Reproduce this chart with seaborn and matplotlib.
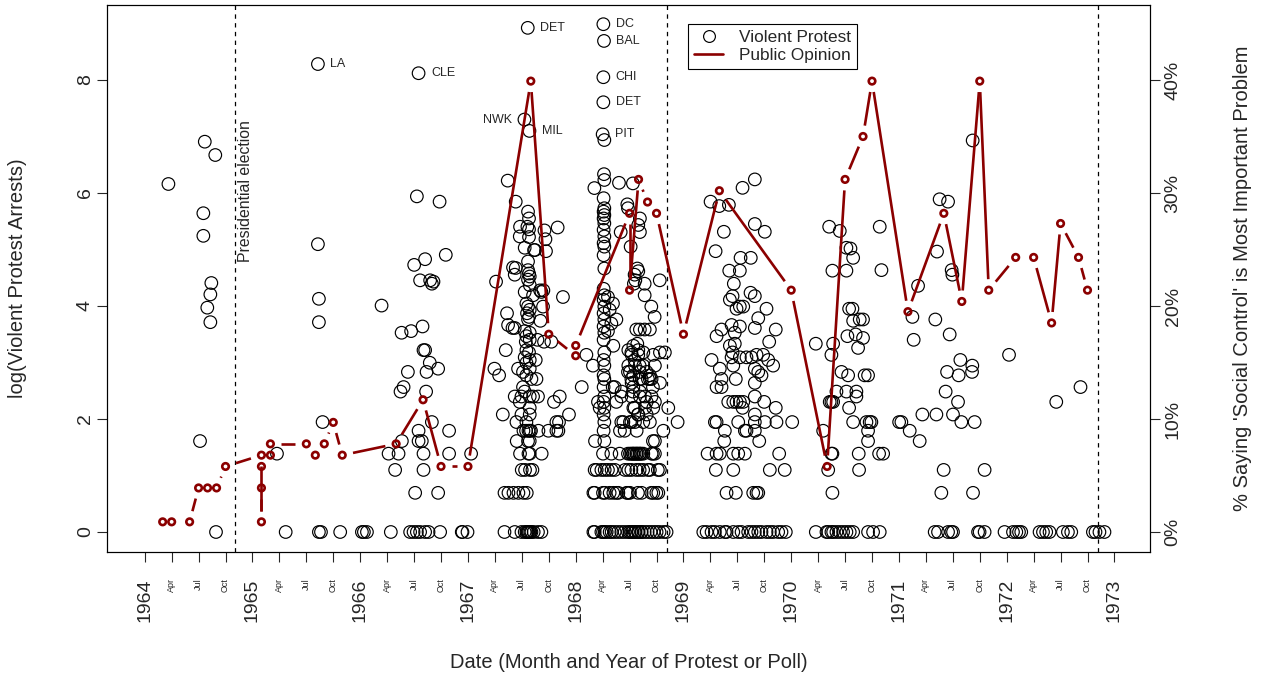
import numpy as np
import pandas as pd
import seaborn as sns
import matplotlib.pyplot as plt
from matplotlib.lines import Line2D
from matplotlib.collections import LineCollection

# violent protests: (month into the year, number of arrests); events with a single arrest listed apart
protests_1964 = [(2.64, 473), (6.16, 5), (6.53, 282), (6.53, 189), (6.69, 1000), (6.97, 53), (7.31, 67),
                 (7.31, 41), (7.42, 82), (7.86, 790)]
ones_1964 = [7.94]

protests_1965 = [(2.73, 4), (7.29, 3952), (7.29, 163), (7.40, 62), (7.40, 41), (7.81, 7)]
ones_1965 = [3.70, 7.40, 7.63, 9.77]

protests_1966 = [(2.38, 55), (3.16, 4), (4.27, 4), (3.89, 3), (4.61, 34), (4.49, 12), (4.83, 13), (4.64, 5),
                 (5.31, 17), (5.67, 35), (6.01, 113), (6.12, 2), (6.31, 380), (6.50, 3360), (6.50, 6), (6.50, 5),
                 (6.67, 86), (6.86, 5), (6.94, 38), (7.05, 25), (7.05, 4), (7.05, 3), (7.23, 25), (7.23, 125),
                 (7.34, 12), (7.39, 17), (7.75, 20), (7.79, 86), (7.98, 7), (7.98, 81), (8.16, 84), (8.68, 18),
                 (8.68, 2), (8.84, 346), (9.53, 135), (9.90, 6), (9.90, 4)]
ones_1966 = [0.19, 0.41, 0.75, 3.41, 5.56, 5.94, 6.31, 6.67, 7.23, 7.61, 8.90, 11.31, 11.39]

protests_1967 = [(0.35, 4), (2.95, 18), (3.13, 84), (3.47, 16), (3.88, 8), (4.07, 2), (4.21, 25), (4.35, 48),
                 (4.43, 502), (4.47, 39), (4.51, 2), (4.96, 37), (5.02, 108), (5.07, 2), (5.21, 95), (5.21, 37),
                 (5.21, 11), (5.32, 107), (5.32, 346), (5.40, 7), (5.43, 5), (5.58, 18), (5.62, 2), (5.77, 10),
                 (5.77, 187), (5.80, 222), (5.80, 4), (5.96, 8), (5.96, 11), (5.99, 3), (6.13, 13), (6.13, 17),
                 (6.18, 6), (6.18, 2), (6.29, 1480), (6.32, 153), (6.32, 70), (6.32, 35), (6.32, 22), (6.32, 12),
                 (6.36, 3), (6.44, 29), (6.47, 6), (6.51, 57), (6.51, 32), (6.51, 25), (6.51, 20), (6.51, 16),
                 (6.51, 7), (6.55, 2), (6.58, 48), (6.62, 222), (6.66, 7500), (6.69, 290), (6.69, 120),
                 (6.69, 103), (6.69, 87), (6.69, 54), (6.69, 43), (6.69, 5), (6.74, 6), (6.74, 4), (6.80, 257),
                 (6.80, 212), (6.80, 185), (6.80, 97), (6.80, 45), (6.80, 24), (6.85, 1210), (6.88, 92),
                 (6.88, 79), (6.88, 51), (6.88, 34), (6.88, 30), (6.88, 21), (6.88, 18), (6.88, 11), (6.88, 9),
                 (6.88, 8), (6.88, 6), (6.88, 5), (6.88, 4), (6.91, 3), (7.02, 6), (7.07, 15), (7.18, 3),
                 (7.25, 66), (7.25, 11), (7.36, 147), (7.47, 147), (7.55, 21), (7.63, 15), (7.74, 30), (7.80, 11),
                 (7.85, 6), (8.03, 72), (8.07, 42), (8.18, 70), (8.21, 4), (8.36, 54), (8.40, 72), (8.47, 29),
                 (8.52, 208), (8.63, 178), (8.69, 144), (8.96, 6), (9.29, 29), (9.58, 10), (9.85, 7), (9.85, 6),
                 (9.99, 219), (10.07, 6), (10.14, 7), (10.22, 11), (10.58, 64), (11.25, 8)]
ones_1967 = [-0.05, 4.07, 5.21, 5.96, 6.32, 6.51, 6.62, 6.70, 6.80, 6.95, 7.07, 7.32, 7.80, 8.18]

protests_1968 = [(3.08, 8000), (3.15, 5950), (3.08, 3130), (3.08, 2010), (3.00, 1140), (3.19, 1030),
                 (3.15, 563), (3.19, 508), (2.08, 440), (4.82, 483), (6.37, 478), (5.75, 330), (5.82, 308),
                 # the April column
                 (3.11, 368), (3.19, 308), (3.11, 290), (3.19, 273), (3.11, 257), (3.19, 236), (3.11, 210),
                 (3.19, 187), (3.11, 166), (3.19, 156), (3.11, 134), (3.19, 106), (3.11, 74), (3.19, 66),
                 (3.11, 61), (3.19, 54), (3.11, 48), (3.19, 43), (3.11, 38), (3.19, 34), (3.11, 30), (3.19, 24),
                 (3.11, 21), (3.19, 19), (3.11, 16), (3.19, 15), (3.11, 13), (3.19, 11), (3.11, 10), (3.19, 9),
                 (3.11, 8), (3.19, 7), (3.11, 6), (3.19, 5),
                 (7.15, 257), (6.97, 229), (7.15, 202), (5.01, 202), (6.12, 156),
                 (6.86, 106), (6.97, 101), (6.56, 95), (6.64, 86), (6.48, 81), (7.68, 81), (7.68, 66), (9.36, 86),
                 (3.59, 64), (4.15, 57), (3.78, 51), (4.53, 43), (3.97, 40), (3.59, 35), (4.19, 27),
                 (4.12, 13), (5.12, 12), (5.31, 7), (4.93, 6), (8.42, 54), (8.79, 45),
                 (6.75, 36), (7.15, 36), (7.68, 36), (8.26, 36), (1.19, 23), (1.92, 19), (0.67, 13),
                 (5.86, 25), (6.42, 27), (6.97, 25), (7.53, 24), (6.23, 23), (6.97, 23), (8.64, 23), (9.38, 24),
                 (9.93, 24), (5.86, 19), (6.60, 19), (7.53, 19), (8.82, 19), (6.04, 17), (6.42, 16), (7.15, 17),
                 (7.90, 17), (8.26, 16), (8.45, 15), (6.23, 14), (7.34, 15), (8.26, 15), (9.38, 14), (6.42, 13),
                 (7.15, 12), (7.71, 11), (8.45, 11), (6.23, 11), (7.15, 11), (7.90, 10), (8.82, 10), (6.42, 9),
                 (7.71, 9), (8.64, 9), (10.31, 9), (6.97, 8), (7.90, 8), (6.04, 7), (6.60, 7), (7.53, 7),
                 (8.26, 7), (6.79, 6), (9.76, 6), (8.82, 5), (11.35, 7), (6.20, 24), (6.86, 28), (6.56, 21),
                 (7.12, 19), (5.82, 17), (8.04, 15), (8.60, 13), (7.12, 15), (6.20, 15), (6.37, 12), (6.56, 9),
                 (6.93, 8), (4.34, 13), (5.08, 11), (4.53, 10), (2.48, 10), (2.67, 9), (5.08, 7), (6.20, 7),
                 (5.45, 6), (8.60, 5), (2.15, 5),
                 # four arrests
                 (3.04, 4), (3.97, 4), (4.89, 4), (5.82, 4), (6.04, 4), (6.20, 4), (6.37, 4), (6.42, 4),
                 (6.56, 4), (6.75, 4), (6.79, 4), (6.93, 4), (7.12, 4), (7.15, 4), (7.31, 4), (7.53, 4),
                 (8.45, 4), (8.60, 4), (8.82, 4),
                 # three arrests
                 (2.11, 3), (2.34, 3), (2.86, 3), (3.23, 3), (3.59, 3), (4.00, 3), (4.37, 3), (5.48, 3),
                 (5.86, 3), (6.20, 3), (6.75, 3), (7.12, 3), (7.51, 3), (8.04, 3), (8.26, 3), (9.15, 3), (9.38, 3),
                 # two arrests
                 (1.97, 2), (2.11, 2), (3.04, 2), (3.26, 2), (3.78, 2), (4.19, 2), (4.53, 2), (4.75, 2),
                 (5.67, 2), (5.82, 2), (6.04, 2), (6.93, 2), (7.34, 2), (8.42, 2), (8.64, 2), (8.98, 2), (9.20, 2)]
ones_1968 = [1.97, 2.11, 2.86, 3.04, 3.23, 3.45, 3.78, 4.00, 4.34, 4.71, 5.08, 5.45, 5.82, 6.01, 6.20, 6.34,
             6.56, 6.67, 6.93, 7.01, 7.31, 7.34, 7.68, 8.01, 8.34, 8.68, 9.01, 9.34, 9.79, 10.12]

protests_1969 = [(3.02, 346), (3.99, 320), (5.06, 327), (6.58, 442), (7.95, 513), (4.50, 203), (3.58, 144),
                 (7.95, 233), (9.06, 203), (6.36, 128), (7.50, 128), (5.10, 102), (6.28, 102), (5.61, 81),
                 (7.47, 69), (7.95, 65), (5.47, 65), (5.17, 61), (6.28, 54), (6.66, 54), (5.91, 52), (9.25, 52),
                 (8.33, 44), (7.95, 37), (10.28, 36), (4.24, 36), (5.36, 39), (6.28, 38), (5.72, 34), (3.69, 32),
                 (9.55, 29), (5.17, 27), (5.72, 28), (5.47, 24), (3.13, 21), (4.05, 18), (5.36, 22), (6.28, 22),
                 (7.02, 22), (7.58, 22), (8.14, 23), (8.88, 23), (9.44, 21), (9.99, 19), (5.55, 19), (7.95, 18),
                 (8.33, 17), (8.69, 16), (4.24, 15), (3.69, 13), (4.24, 13), (5.83, 15), (7.95, 14), (4.99, 10),
                 (5.55, 10), (5.91, 10), (6.28, 10), (6.66, 10), (7.95, 11), (8.99, 10), (6.58, 9), (7.95, 8),
                 (10.28, 9), (3.50, 7), (3.69, 7), (6.10, 7), (7.95, 7), (9.06, 7), (10.36, 7), (4.61, 6),
                 (6.84, 6), (7.02, 6), (7.95, 6), (4.54, 5), (8.44, 5), (2.69, 4), (3.69, 4), (4.05, 4),
                 (5.55, 4), (6.10, 4), (6.84, 4), (10.66, 4), (3.61, 3), (5.55, 3), (9.62, 3), (11.28, 3),
                 (4.80, 2), (5.83, 2), (7.77, 2), (8.14, 2), (8.33, 2)]
ones_1969 = [2.21, 2.58, 3.13, 3.50, 4.05, 4.61, 4.80, 5.55, 6.10, 6.47, 7.21, 7.58, 7.95, 8.33, 8.69, 9.25,
             9.62, 9.99, 10.55, 10.92, 11.40]

protests_1970 = [(0.11, 7), (4.23, 222), (5.41, 206), (6.15, 153), (6.60, 151), (6.90, 128), (9.86, 222),
                 (4.59, 102), (6.15, 102), (10.05, 103), (2.74, 28), (4.67, 28), (4.48, 23), (6.45, 52),
                 (6.82, 52), (6.90, 42), (7.63, 43), (8.00, 43), (7.18, 33), (6.26, 32), (8.00, 31), (7.45, 26),
                 (5.60, 17), (6.34, 16), (8.18, 16), (8.56, 16), (7.26, 12), (7.26, 11), (5.04, 12), (6.15, 12),
                 (4.29, 10), (4.48, 10), (4.67, 10), (6.45, 9), (3.56, 6), (6.90, 7), (8.38, 7), (8.93, 7),
                 (8.74, 7), (8.56, 6), (8.56, 5), (4.48, 4), (4.59, 4), (7.52, 4), (9.79, 4), (10.24, 4),
                 (4.12, 3), (7.56, 3), (4.59, 2)]
ones_1970 = [2.74, 3.93, 4.12, 4.48, 4.67, 5.04, 5.41, 5.78, 6.15, 6.52, 6.90, 8.56, 9.12, 9.86]

protests_1971 = [(8.21, 1022), (4.53, 361), (5.47, 346), (4.24, 143), (5.87, 103), (5.95, 95), (2.13, 78),
                 (1.50, 45), (4.05, 43), (1.64, 30), (5.65, 33), (6.84, 21), (8.17, 19), (8.14, 17), (5.36, 17),
                 (6.65, 16), (5.20, 12), (6.58, 10), (2.61, 8), (4.17, 8), (6.02, 8), (0.02, 7), (0.27, 7),
                 (6.95, 7), (8.43, 7), (1.20, 6), (2.31, 5), (4.98, 3), (9.54, 3), (4.72, 2), (8.25, 2)]
ones_1971 = [3.98, 4.35, 5.47, 5.83, 6.02, 8.81, 8.98, 9.54, 11.76]

protests_1972 = [(0.26, 23), (5.52, 10), (8.22, 13)]
ones_1972 = [0.70, 1.07, 1.37, 1.62, 3.66, 4.04, 4.40, 4.77, 6.26, 6.82, 7.19, 9.60, 9.89, 10.33, 10.89]

# named riots: (label, year, month, arrests, side of the point)
riot_labels = [("LA", 1965, 7.29, 3952, "right"), ("CLE", 1966, 6.50, 3360, "right"),
               ("DET", 1967, 6.66, 7500, "right"), ("NWK", 1967, 6.29, 1480, "left"),
               ("MIL", 1967, 6.85, 1210, "right"), ("DC", 1968, 3.08, 8000, "right"),
               ("BAL", 1968, 3.15, 5950, "right"), ("CHI", 1968, 3.08, 3130, "right"),
               ("DET", 1968, 3.08, 2010, "right"), ("PIT", 1968, 3.00, 1140, "right")]

# Gallup polls: months since Jan 1964 and % naming social control
poll_month = [2, 3, 5, 6, 7, 8, 9, 13, 13, 13, 13, 14, 14, 18, 19, 20, 21, 22, 28, 31, 33, 36, 43, 45, 48, 48,
              54, 54, 55, 56, 57, 60, 64, 72, 76, 78, 80, 81, 85, 89, 91, 93, 94, 97, 99, 101, 102, 104, 105]
poll_pct = [0.9, 0.9, 0.9, 3.9, 3.9, 3.9, 5.8, 6.8, 0.9, 3.9, 5.8, 6.8, 7.8, 7.8, 6.8, 7.8, 9.7, 6.8, 7.8, 11.7,
            5.8, 5.8, 39.9, 17.5, 15.6, 16.5, 28.2, 21.4, 31.2, 29.2, 28.2, 17.5, 30.2, 21.4, 5.8, 31.2, 35.0,
            39.9, 19.5, 28.2, 20.4, 39.9, 21.4, 24.3, 24.3, 18.5, 27.3, 24.3, 21.4]

election_dates = [1964.84, 1968.85, 1972.85]

years = [1964, 1965, 1966, 1967, 1968, 1969, 1970, 1971, 1972]
protest_lists = [protests_1964, protests_1965, protests_1966, protests_1967, protests_1968,
                 protests_1969, protests_1970, protests_1971, protests_1972]
ones_lists = [ones_1964, ones_1965, ones_1966, ones_1967, ones_1968, ones_1969, ones_1970, ones_1971, ones_1972]

rows = []
for yr, events, ones in zip(years, protest_lists, ones_lists):
    for m, n in events:
        rows.append((yr + m / 12, n))
    for m in ones:
        rows.append((yr + m / 12, 1))
protests = pd.DataFrame(rows, columns=["date", "arrests"])
protests["log_arrests"] = np.log(protests["arrests"])

polls = pd.DataFrame({"date": 1964 + np.array(poll_month) / 12, "pct": poll_pct})

sns.set_style("ticks")
plt.rcParams['font.family'] = ['Liberation Sans', 'DejaVu Sans']
red = "#8B0000"

W, H = 1262, 679
fig = plt.figure(figsize=(W / 100, H / 100), dpi=100)
L, R, T, B = 107, 1150, 5, 552
ax = fig.add_axes([L / W, 1 - B / H, (R - L) / W, (B - T) / H])
ax2 = ax.twinx()

ylo, yhi = -0.354, 9.327
ax.set_xlim(1963.65, 1973.33)
ax.set_ylim(ylo, yhi)
ax2.set_ylim(ylo * 5, yhi * 5)

sns.scatterplot(data=protests, x="date", y="log_arrests", ax=ax, marker="o", s=82,
                facecolor="none", edgecolor="black", linewidth=0.85, legend=False, zorder=2)

for x in election_dates:
    ax.axvline(x, color="black", lw=0.9, ls=(0, (3.5, 3.5)), zorder=1)
ax.text(1964.94, 4.78, "Presidential election", rotation=90, ha="center", va="bottom", fontsize=11.4)

for name, yr, m, n, side in riot_labels:
    off = 9 if side == "right" else -9
    ax.annotate(name, (yr + m / 12, np.log(n)), xytext=(off, 0), textcoords="offset points",
                ha="left" if side == "right" else "right", va="center", fontsize=9)

# public opinion line, broken around each point
pix = ax2.transData.transform(polls[["date", "pct"]].to_numpy())
gap = 11
segs = []
for (x0, y0), (x1, y1) in zip(pix[:-1], pix[1:]):
    d = np.hypot(x1 - x0, y1 - y0)
    if d > 2 * gap:
        ux, uy = (x1 - x0) / d, (y1 - y0) / d
        seg = np.array([[x0 + ux * gap, y0 + uy * gap], [x1 - ux * gap, y1 - uy * gap]])
        segs.append(ax2.transData.inverted().transform(seg))
ax2.add_collection(LineCollection(segs, colors=red, linewidths=1.9, capstyle="butt"))
sns.scatterplot(data=polls, x="date", y="pct", ax=ax2, marker="o", s=22, facecolor="none",
                edgecolor=red, linewidth=1.9, legend=False, zorder=3)

# axes
xt = np.arange(1964, 1973.01, 0.25)
ax.set_xticks(xt)
mon = {0.25: "Apr", 0.5: "Jul", 0.75: "Oct"}
ax.set_xticklabels([str(int(v)) if v == int(v) else mon[round(v - int(v), 2)] for v in xt], rotation=90)
for t, v in zip(ax.get_xticklabels(), xt):
    t.set_fontsize(14 if v == int(v) else 6.5)
    t.set_va("top")
ax.tick_params(axis="x", length=7.5, width=0.8, pad=11.5)
ax.set_yticks([0, 2, 4, 6, 8])
ax.tick_params(axis="y", length=7.5, width=0.8, labelsize=14, labelrotation=90, pad=2)
for t in ax.get_yticklabels():
    t.set_va("center")
ax2.set_yticks([0, 10, 20, 30, 40])
ax2.set_yticklabels(["0%", "10%", "20%", "30%", "40%"])
ax2.tick_params(axis="y", length=7.5, width=0.8, labelsize=14, labelrotation=90, pad=3)
for t in ax2.get_yticklabels():
    t.set_va("center")
for a in (ax, ax2):
    for sp in a.spines.values():
        sp.set_color("black")
        sp.set_linewidth(0.8)

ax.set_xlabel("Date (Month and Year of Protest or Poll)", fontsize=14.5)
ax.xaxis.set_label_coords(0.5, (B - 663) / (B - T))
ax.xaxis.label.set_va("center")
ax.set_ylabel("log(Violent Protest Arrests)", fontsize=14.5)
ax.yaxis.set_label_coords((18 - L) / (R - L), 0.5)
ax.yaxis.label.set_va("center")
ax2.set_ylabel("% Saying 'Social Control' is Most Important Problem", fontsize=14.5)
ax2.yaxis.set_label_coords((1243 - L) / (R - L), 0.5)
ax2.yaxis.label.set_va("center")

handles = [Line2D([], [], ls="none", marker="o", mfc="none", mec="black", ms=8.5, mew=0.85),
           Line2D([], [], color=red, lw=1.9)]
leg = ax2.legend(handles, ["Violent Protest", "Public Opinion"], loc="upper left",
                 bbox_to_anchor=((688 - L) / (R - L), (B - 24) / (B - T)), borderaxespad=0,
                 fontsize=12.4, frameon=True, fancybox=False, framealpha=1, edgecolor="black",
                 handlelength=1.7, handletextpad=0.9, labelspacing=0.15, borderpad=0.35)
leg.get_frame().set_linewidth(0.8)

fig.savefig("out.png", dpi=100)
